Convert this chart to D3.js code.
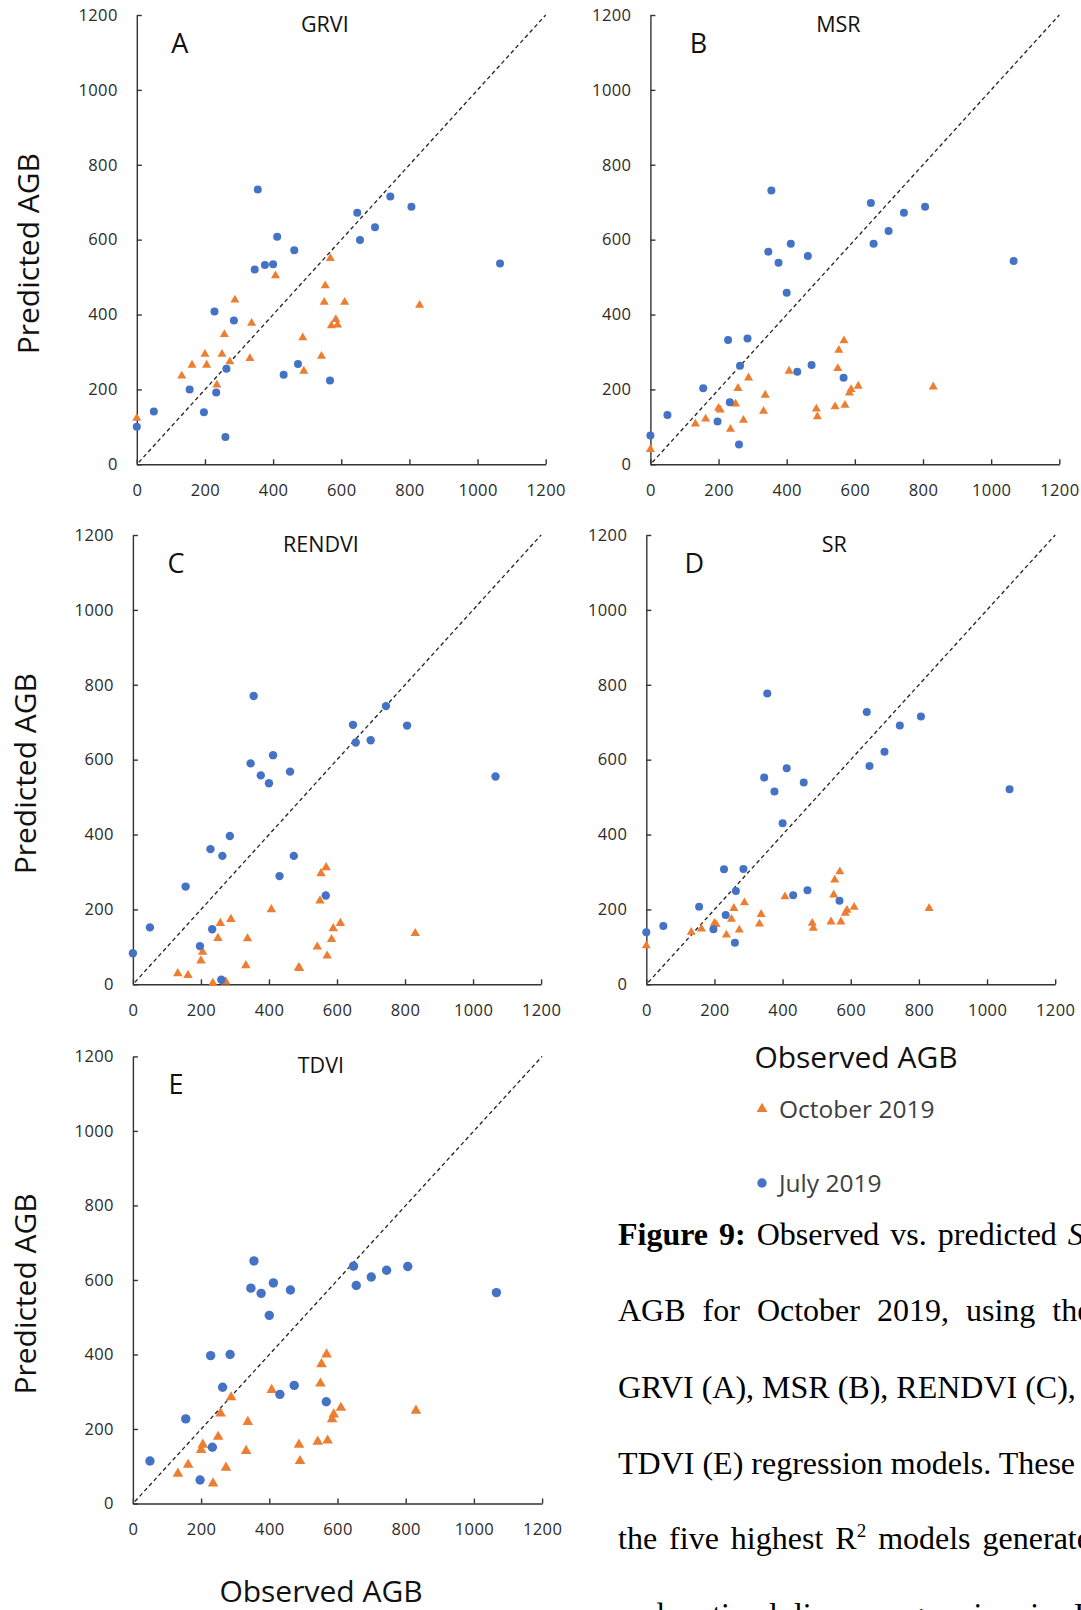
<!DOCTYPE html>
<html>
<head>
<meta charset="utf-8">
<script src="https://cdn.jsdelivr.net/npm/d3@7"></script>
<style>
  body { margin: 0; background: #fff; }
  svg { display: block; }
</style>
</head>
<body>
<svg id="chart" width="1081" height="1610"></svg>
<script>
// observed AGB of the sample plots (same for every panel)
var obsJuly = [0, 50, 155, 197, 228, 233, 260, 263, 285, 346, 355, 376, 400, 412, 431, 462, 473, 567, 647, 655, 699, 744, 806, 1066];
var obsOct = [0, 132, 162, 200, 205, 235, 250, 257, 273, 288, 332, 337, 407, 487, 490, 542, 550, 553, 568, 571, 584, 589, 610, 830];

// predicted AGB, one pair of arrays per index (null = outside the plot)
var grviJuly = [100, 141, 200, 139, 408, 192, 73, 255, 384, 520, 734, 532, 534, 608, 239, 572, 268, 224, 672, 599, 633, 715, 688, 536];
var grviOct = [123, 236, 265, 294, 265, 212, 294, 347, 274, 439, 283, 377, 504, 338, 249, 289, 433, 477, 550, 370, 387, 372, 433, 425];
var msrJuly = [77, 132, 203, 114, 332, 166, 53, 263, 336, 568, 731, 538, 458, 589, 247, 556, 265, 231, 698, 589, 623, 672, 688, 543];
var msrOct = [40, 108, 121, 150, 145, 94, 161, 203, 118, 231, 142, 185, 249, 148, 127, 154, 256, 305, 330, 158, 191, 200, 209, 207];
var rendviJuly = [83, 152, 261, 102, 361, 147, 12, 343, 396, 590, 770, 558, 537, 612, 289, 568, 343, 237, 693, 646, 652, 743, 691, 555];
var rendviOct = [null, 29, 24, 63, 86, 3, 123, 163, 7, 174, 50, 122, 200, 44, 43, 100, 223, 296, 312, 76, 120, 149, 163, 136];
var srJuly = [139, 156, 207, 147, 307, 185, 111, 249, 308, 552, 777, 515, 430, 577, 238, 539, 251, 223, 727, 583, 621, 691, 715, 521];
var srOct = [103, 139, 148, 163, 160, 132, 174, 203, 145, 218, 161, 187, 234, 163, 150, 167, 239, 279, 301, 167, 190, 198, 206, 203];
var tdviJuly = [null, 114, 227, 63, 397, 151, null, 312, 400, 578, 651, 564, 505, 592, 293, 573, 317, 273, 637, 585, 608, 626, 636, 566];
var tdviOct = [null, 80, 104, 144, 158, 54, 179, 242, 96, 285, 141, 219, 305, 158, 114, 166, 322, 374, 400, 169, 226, 239, 257, 249];

var axisTicks = [0, 200, 400, 600, 800, 1000, 1200];
var seriesNames = ["October 2019", "July 2019"];

var colors = {oct: "#ED7D31", july: "#4472C4"};
var font = "'Open Sans', 'Noto Sans', sans-serif";
var serif = "'Liberation Serif', 'DejaVu Serif', serif";

var svg = d3.select("#chart");
svg.append("rect").attr("width", 1081).attr("height", 1610).attr("fill", "#fff");

var panels = [
  {letter: "A", title: "GRVI", july: grviJuly, oct: grviOct, left: 136.8, right: 545.7, top: 15, bottom: 464.3, r: 4, ylab: true, lx: 28.6},
  {letter: "B", title: "MSR", july: msrJuly, oct: msrOct, left: 650.4, right: 1059.3, top: 15, bottom: 464.3, r: 4, ylab: false},
  {letter: "C", title: "RENDVI", july: rendviJuly, oct: rendviOct, left: 132.9, right: 541.1, top: 535, bottom: 984.3, r: 4.2, ylab: true, lx: 25},
  {letter: "D", title: "SR", july: srJuly, oct: srOct, left: 646.3, right: 1055.2, top: 535, bottom: 984.3, r: 4, ylab: false},
  {letter: "E", title: "TDVI", july: tdviJuly, oct: tdviOct, left: 132.9, right: 542.1, top: 1056.4, bottom: 1503.5, r: 4.7, ylab: true, lx: 25}
];

panels.forEach(function(p) {
  var x = d3.scaleLinear().domain([0, 1200]).range([p.left, p.right]);
  var y = d3.scaleLinear().domain([0, 1200]).range([p.bottom, p.top]);
  var g = svg.append("g").attr("class", "panel");

  // 1:1 line
  g.append("line")
    .attr("x1", x(0) + 2).attr("y1", y(0) - 2)
    .attr("x2", x(1200)).attr("y2", y(1200))
    .attr("stroke", "#222")
    .attr("stroke-width", 1.3)
    .attr("stroke-dasharray", "4,3");

  var xAxis = g.append("g")
    .attr("transform", "translate(0," + p.bottom + ")")
    .call(d3.axisBottom(x).tickValues(axisTicks).tickFormat(d3.format("d"))
      .tickSize(-5).tickSizeOuter(0).tickPadding(20));
  var yAxis = g.append("g")
    .attr("transform", "translate(" + p.left + ",0)")
    .call(d3.axisLeft(y).tickValues(axisTicks).tickFormat(d3.format("d"))
      .tickSize(-5).tickSizeOuter(0).tickPadding(19));

  [xAxis, yAxis].forEach(function(a) {
    a.select(".domain").attr("stroke", "#333").attr("stroke-width", 1.4);
    a.selectAll(".tick line").attr("stroke", "#333").attr("stroke-width", 1.4);
    a.selectAll(".tick text")
      .attr("fill", "#2b2b2b")
      .style("font-family", font)
      .style("font-size", "16.5px")
      .style("letter-spacing", "0.4px");
  });

  // October first, July drawn on top
  var octPts = obsOct.map(function(v, i) { return [v, p.oct[i]]; }).filter(function(d) { return d[1] != null; });
  var julyPts = obsJuly.map(function(v, i) { return [v, p.july[i]]; }).filter(function(d) { return d[1] != null; });

  g.selectAll(".oct")
    .data(octPts)
    .enter().append("path")
    .attr("class", "oct")
    .attr("d", d3.symbol().type(d3.symbolTriangle).size(p.r * p.r * 2.2))
    .attr("transform", function(d) { return "translate(" + x(d[0]) + "," + y(d[1]) + ")"; })
    .attr("fill", colors.oct);

  g.selectAll(".july")
    .data(julyPts)
    .enter().append("circle")
    .attr("class", "july")
    .attr("cx", function(d) { return x(d[0]); })
    .attr("cy", function(d) { return y(d[1]); })
    .attr("r", p.r)
    .attr("fill", colors.july);

  g.append("text")
    .attr("x", p.left + (p.ylab ? 43 : 48))
    .attr("y", p.top + 38)
    .attr("text-anchor", "middle")
    .style("font-family", font)
    .style("font-size", "27px")
    .attr("fill", "#111")
    .text(p.letter);

  g.append("text")
    .attr("x", p.left + 188)
    .attr("y", p.top + 17)
    .attr("text-anchor", "middle")
    .style("font-family", font)
    .style("font-size", "21.5px")
    .attr("fill", "#111")
    .text(p.title);

  if (p.ylab) {
    g.append("text")
      .attr("transform", "translate(" + (p.lx + 10.5) + "," + ((p.top + p.bottom) / 2 + 14) + ") rotate(-90)")
      .attr("text-anchor", "middle")
      .style("font-family", font)
      .style("font-size", "30px")
      .attr("fill", "#111")
      .text("Predicted AGB");
  }
});

// x title under panel E
svg.append("text")
  .attr("x", 321).attr("y", 1602)
  .attr("text-anchor", "middle")
  .style("font-family", font).style("font-size", "30px")
  .attr("fill", "#111")
  .text("Observed AGB");

// legend block (right column)
svg.append("text")
  .attr("x", 856).attr("y", 1068)
  .attr("text-anchor", "middle")
  .style("font-family", font).style("font-size", "30px")
  .attr("fill", "#111")
  .text("Observed AGB");

var legend = svg.append("g").attr("transform", "translate(762,0)");
legend.append("path")
  .attr("d", d3.symbol().type(d3.symbolTriangle).size(50))
  .attr("transform", "translate(0,1109)")
  .attr("fill", colors.oct);
legend.append("circle")
  .attr("cx", 0).attr("cy", 1183).attr("r", 4.7)
  .attr("fill", colors.july);
legend.selectAll(".leg")
  .data(seriesNames)
  .enter().append("text")
  .attr("x", 17)
  .attr("y", function(d, i) { return i == 0 ? 1118 : 1192; })
  .style("font-family", font).style("font-size", "24.5px")
  .attr("fill", "#404040")
  .text(function(d) { return d; });

// figure caption (runs off the right edge like the source page)
var cap = svg.append("g")
  .style("font-family", serif)
  .style("font-size", "32px")
  .attr("fill", "#000");

var l1 = cap.append("text").attr("x", 618).attr("y", 1245).attr("word-spacing", 3);
l1.append("tspan").attr("font-weight", "bold").text("Figure 9:");
l1.append("tspan").text(" Observed vs. predicted ");
l1.append("tspan").attr("font-style", "italic").text("S.");

cap.append("text").attr("x", 618).attr("y", 1321).attr("word-spacing", 9)
  .text("AGB for October 2019, using the");
cap.append("text").attr("x", 618).attr("y", 1398)
  .text("GRVI (A), MSR (B), RENDVI (C),");
cap.append("text").attr("x", 618).attr("y", 1474)
  .text("TDVI (E) regression models. These");

var l5 = cap.append("text").attr("x", 618).attr("y", 1549).attr("word-spacing", 4);
l5.append("tspan").text("the five highest R");
l5.append("tspan").attr("font-size", "19px").attr("dy", -12).text("2");
l5.append("tspan").attr("dy", 12).text(" models generated");

cap.append("text").attr("x", 618).attr("y", 1625).attr("word-spacing", 8)
  .text("and optimal linear regression in July");
</script>
</body>
</html>
